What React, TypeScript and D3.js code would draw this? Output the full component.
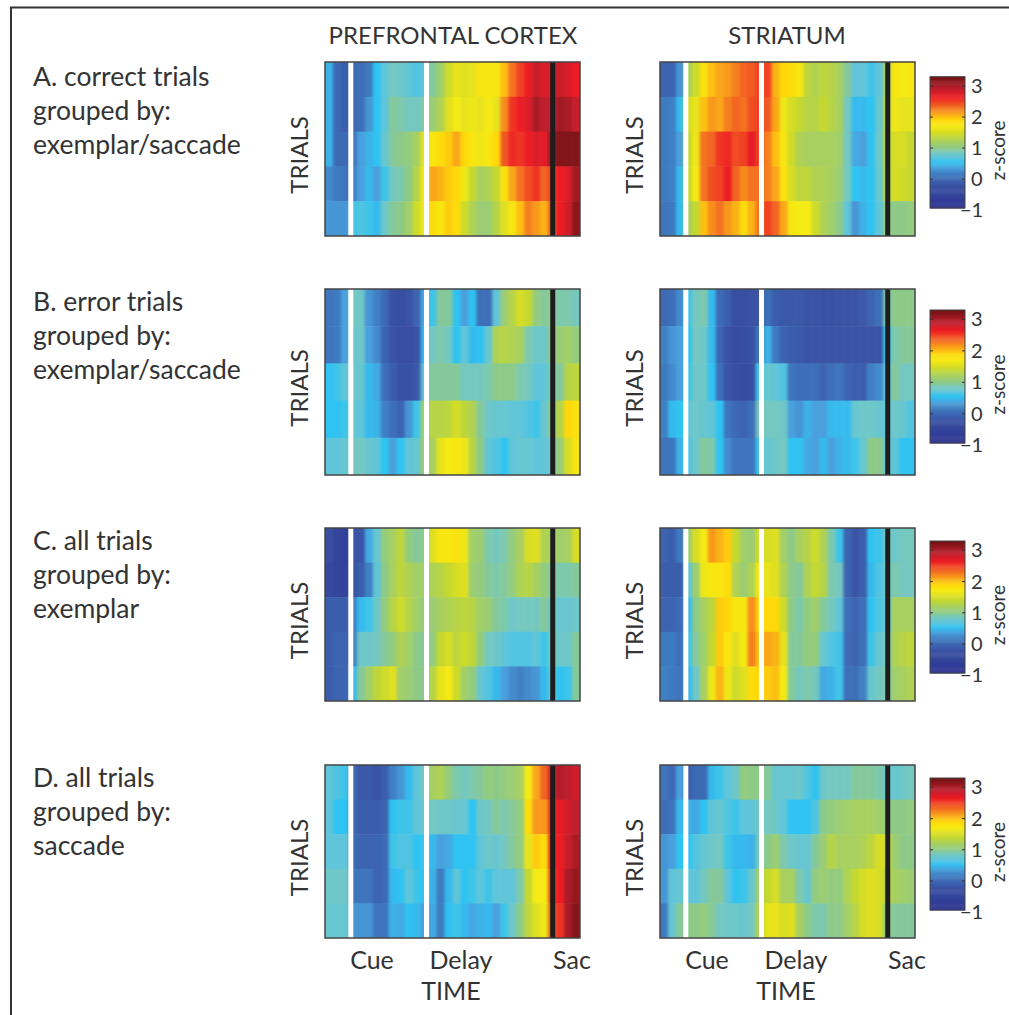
import React from 'react';
import * as d3 from 'd3';

// z-score per time bin (32 bins), 5 trial groups per panel
const pfcA = [
  [.45,0,-.1,0,.05,.15,.55,.7,.85,.8,.7,.65,.7,.95,1.15,1.45,1.6,1.55,1.6,1.75,1.75,1.75,2,2.3,2.5,2.65,2.85,2.75,2.8,2.85,2.75,2.65],
  [.45,0,-.1,0,.05,.3,.55,.7,.95,.9,.85,.85,.9,1.1,1.25,1.55,1.7,1.6,1.65,1.6,1.7,1.6,2.2,2.55,2.65,2.75,3,2.9,2.9,3.05,3,2.85],
  [.45,0,0,.1,.35,.45,.55,.75,.95,1,1.05,1.2,1.6,1.75,1.85,1.95,2.1,1.9,1.75,1.65,1.75,1.9,2.4,2.6,2.55,2.65,2.75,2.7,3.1,3.2,3.2,3.2],
  [.25,.15,.1,.2,.35,.5,.35,.6,.85,.9,1,1.3,1.75,2.1,2.05,1.95,1.9,1.65,1.4,1.2,1.25,1.4,1.8,2.1,2.3,2.45,2.55,2.35,2.5,2.65,2.75,3.05],
  [.3,.3,.3,.6,.65,.6,.5,.8,.95,1,1.15,1.45,1.65,1.85,1.75,1.95,1.85,1.45,1.25,1.1,1.1,1.3,1.55,1.75,2,2.25,2.15,2.05,2.4,2.65,2.8,3.15],
];
const strA = [
  [-.05,-.05,.3,1.2,1.45,1.8,2,2.1,2.15,2.25,2.35,2.4,2.5,2.5,2.05,1.9,1.85,1.75,1.35,1.25,1.35,1.3,1.2,.95,.7,.7,.6,.7,1.2,1.75,1.7,1.75],
  [.15,.2,.5,1.5,1.6,2,2.15,2.1,2.25,2.35,2.3,2.45,2.5,2.4,2.1,1.65,1.5,1.4,1.3,1.3,1.4,1.3,1.2,.85,.5,.5,.55,.75,1.3,1.65,1.6,1.6],
  [.15,.2,.35,1.4,1.65,2.3,2.35,2.55,2.6,2.45,2.5,2.7,2.5,2.25,2,1.75,1.45,1.25,1.2,1.2,1.2,1.2,1.15,.85,.4,.35,.55,.8,1.3,1.5,1.5,1.4],
  [.15,.2,.5,1.4,1.7,2.3,2.45,2.5,2.65,2.35,2.2,2.3,2.3,2.25,2.1,1.8,1.5,1.35,1.35,1.25,1.25,1.2,1.1,.85,.55,.5,.55,.75,1.3,1.5,1.45,1.4],
  [.1,.15,.5,1.2,1.4,2,2.2,2.3,2.15,2.05,1.85,2.05,2.3,2.5,2.35,2.1,1.75,1.7,1.7,1.45,1.25,1.15,1,.7,.3,.45,.55,.7,1.05,1,1,1.05],
];
const pfcB = [
  [.1,.15,.35,.85,.8,.3,.2,0,-.25,-.3,-.2,-.05,.4,.6,.95,.95,.55,.35,.55,.05,.05,.7,1.1,1.3,1.5,1.4,1.05,.95,1,.9,.9,.85],
  [.1,.15,.35,.75,.8,.35,.25,-.05,-.2,-.3,-.3,-.2,.5,.85,.9,.85,.55,.7,.5,.55,.75,1.25,1.3,1.25,1.2,.9,.8,.8,1,1.1,1.15,1.05],
  [.55,.6,.7,.8,.75,.5,.4,.05,-.1,-.25,-.25,-.15,.7,.95,.95,.95,.95,.85,.85,.85,.9,1,1,1,.9,.85,.7,.7,.9,.95,1.3,1.35],
  [.55,.55,.6,.75,.7,.5,.45,.2,.05,-.05,.3,.6,1.15,1.3,1.3,1.35,1.5,1.35,1.25,.95,.8,.75,.75,.7,.7,.65,.6,.75,1,1.3,1.9,1.8],
  [.7,.7,.75,.85,.85,.75,.7,.55,.35,.55,.7,.75,1.1,1.2,1.6,1.7,1.75,1.65,1.3,1,.7,.65,.55,.7,.75,.75,.7,.7,.85,1.1,1.5,1.75],
];
const strB = [
  [0,.05,.25,.6,.85,.9,.5,0,-.1,-.3,-.3,-.2,-.2,.05,-.1,-.15,-.15,-.15,-.2,-.2,-.25,-.25,-.2,-.2,-.2,-.15,-.05,.05,.9,1,1,1],
  [.2,.3,.35,.55,.85,.8,.5,-.05,-.25,-.35,-.3,-.25,.1,.45,.15,-.05,-.1,-.15,-.2,-.2,-.2,-.2,-.2,-.2,-.2,-.2,-.2,-.2,.6,.9,.95,.95],
  [.15,.25,.35,.6,.8,.8,.55,.05,-.2,-.3,-.35,-.3,.6,.75,.7,.65,.1,.05,.05,.05,-.05,.05,.1,-.05,-.1,-.1,.2,.25,.7,.95,.85,.85],
  [.2,.5,.55,.7,.8,.75,.7,.55,.1,0,-.05,.05,.85,.85,.85,.8,.35,.3,.45,.35,.35,.5,.5,.5,.75,.8,.8,.75,.7,.8,.75,.65],
  [.1,.1,.45,.65,.8,.95,.9,.55,.25,.1,.1,.1,.6,.75,.8,.85,.55,.55,.4,.35,.5,.35,.45,.5,.6,.75,1,1,.7,.7,.55,.55],
];
const pfcC = [
  [-.3,-.5,-.6,-.2,-.2,.4,.75,1.05,1.2,1.35,1.05,.95,1,1.55,1.75,1.75,1.8,1.65,1.15,1.1,.9,.85,.9,1.05,1.2,1.5,1.55,1.25,1.2,1.15,1.2,1.5],
  [-.4,-.5,-.55,-.2,-.1,.2,.7,1,1.2,1.35,1.25,1.15,1.15,1.25,1.3,1.4,1.5,1.55,1.1,1.05,.95,.9,.95,1.05,1.25,1.3,1.2,1.05,.95,.9,.9,.95],
  [-.1,-.1,-.1,.2,.5,.6,.8,1.05,1.3,1.45,1.3,1.15,1.05,1.1,1.2,1.25,1.3,1.35,1.3,1.15,1.1,.95,.9,.8,.85,.85,.85,.95,.8,.75,.75,.8],
  [-.1,-.05,-.05,.2,.8,.8,.85,.95,1.05,1.25,1.15,1,.95,1.05,1.4,1.5,1.35,1.45,1.35,1.05,.85,.8,.7,.65,.65,.65,.7,.6,.8,.8,.8,.95],
  [-.1,-.05,-.05,.5,.95,1.15,1.35,1.45,1.55,1.15,1.1,1,1,1.3,1.6,1.7,1.45,1.15,1.05,.75,.65,.5,.35,.25,.2,.25,.3,.5,.7,.55,.6,.95],
];
const strC = [
  [-.05,-.1,.15,1.1,1.5,1.7,2.15,2.05,1.95,1.4,1.15,1.1,1.45,1.5,1.55,1.15,1,1.2,1.3,1.45,1.25,.9,.6,-.05,-.2,-.1,.55,.6,.8,.8,.85,.85],
  [-.1,-.1,-.1,.7,1.1,1.65,1.75,1.75,1.85,1.25,1.1,1.25,1.7,1.6,1.55,1.25,1,.95,1.25,1.4,1.3,.9,.85,-.05,-.2,-.1,.5,.65,.8,.9,.85,.85],
  [-.05,-.05,0,.5,1,1.2,1.35,1.95,1.9,1.75,1.75,2.2,1.9,1.9,1.9,1.45,1,.9,1.05,1.15,.95,.85,.7,.05,-.05,.05,.55,.65,.75,1.2,1.2,1.2],
  [.15,.15,.05,.6,.95,1.15,1.4,1.95,1.75,1.55,1.7,2.25,2,2.1,2.05,1.6,.95,.95,1.05,1.05,.75,.65,.6,0,-.05,.05,.6,.75,.85,1.25,1.3,1.35],
  [.2,.15,.1,.5,.8,1.2,1.65,2.05,1.65,1.45,1.55,1.85,1.9,1.95,2,1.7,.95,.85,.9,.85,.4,.45,.6,.05,.05,.2,.75,.85,.9,1.15,1.2,1.25],
];
const pfcD = [
  [.7,.65,.6,0,-.15,-.15,-.2,-.1,.2,.3,.5,.7,.85,1.2,1.25,1.05,.9,.85,.9,.95,1.05,1,1.05,1.1,1.2,1.7,2.1,2.35,2.75,2.95,2.9,2.8],
  [.7,.55,.55,0,-.1,-.1,-.1,-.05,.55,.6,.6,.7,.75,.85,.8,.8,.75,.75,.55,.8,.85,.95,.9,.95,1.05,1.85,2.15,2.15,2.6,2.7,2.8,2.9],
  [.7,.7,.7,0,-.05,-.05,-.05,0,.6,.65,.65,.55,.6,.5,.35,.4,.55,.55,.55,.7,.8,.75,.85,.95,1.05,1.6,1.95,1.85,2.6,2.65,2.85,3],
  [.8,.8,.8,.1,.1,.1,-.05,0,.5,.55,.7,.6,.55,.45,.15,.5,.7,.55,.6,.7,.6,.7,.7,.7,.9,1.4,1.7,1.7,2.5,2.65,3,3.1],
  [.75,.75,.75,.3,.3,.3,.1,.1,.45,.4,.55,.5,.35,.4,.15,.55,.6,.5,.4,.45,.5,.35,.6,.8,1,1.35,1.55,1.65,2.4,2.55,3,3.2],
];
const strD = [
  [.1,0,.35,-.1,0,0,.5,.6,.7,.8,1.05,1,1,.95,.75,.75,.75,.8,.65,.55,.8,.85,.85,.85,.95,.95,.95,.9,.8,.75,.8,.85],
  [.05,.1,.5,.45,.4,.55,.7,.75,.65,.6,.7,.7,.8,.85,.8,.7,.55,.55,.55,.65,1,1.05,1.1,1.15,1.2,1.2,1.2,1.15,1.05,1,1,1.05],
  [.3,.35,.55,.55,.65,.75,.8,.85,.6,.5,.5,.45,.85,1,1.1,.9,.8,.75,.75,.95,1.1,1.3,1.2,1.2,1.2,1.25,1.35,1.5,1.45,1.1,1,1],
  [.3,.7,.75,.7,.7,.85,.95,.95,.7,.55,.6,.75,1.15,1.4,1.5,1.2,1.2,.9,.75,1.05,1.1,1.05,1.05,1.25,1.4,1.5,1.55,1.5,1.3,1.2,1.15,1.1],
  [.15,.75,.95,1,1,1.05,.95,.85,.8,.8,.75,.85,1.25,1.6,1.6,1.5,1.55,1.2,1,.9,.9,1,1,1.15,1.3,1.5,1.55,1.5,1,.95,.95,.95],
];

const zStops = [-0.93, -0.2, 0.2, 0.35, 0.55, 0.7, 0.85, 1, 1.2, 1.4, 1.55, 1.7, 1.9, 2.1, 2.35, 2.65, 2.9, 3.3];
const zColors = ['#2b3090', '#3a53a4', '#3f80c4', '#4aa0dc', '#2fc3f2', '#60c5d8', '#75c8c0', '#8dca88', '#a8d060', '#c5d82f', '#e0e020', '#f5ea14', '#ffd80a', '#faa61a', '#f26522', '#ed1c24', '#be1e2d', '#6d1212'];
const zTicks = [3, 2, 1, 0, -1];

const rowLabels = [
  ['A. correct trials', 'grouped by:', 'exemplar/saccade'],
  ['B. error trials', 'grouped by:', 'exemplar/saccade'],
  ['C. all trials', 'grouped by:', 'exemplar'],
  ['D. all trials', 'grouped by:', 'saccade'],
];
const regions = ['PREFRONTAL CORTEX', 'STRIATUM'];
const panels = [[pfcA, strA], [pfcB, strB], [pfcC, strC], [pfcD, strD]];
const rowExtents = [[62, 236], [289, 475], [528, 701], [765, 938]];
const barExtents = [[76.7, 208], [310, 443], [541, 673], [778, 910]];
const labelBaselines = [86, 311, 550, 787];
const columnStarts = [325, 660];
const timeLabels = [['Cue', 47], ['Delay', 136], ['Sac', 247]];
// event markers in time-bin units
const events = [[3.24, 'white'], [12.74, 'white'], [28.58, '#1d1d1d']];

const PLOT_W = 255;
const INK = '#333';
const FONT = 'Lato, sans-serif';

const zColor = d3.scaleLinear<string>().domain(zStops).range(zColors).clamp(true);

function Heatmap({ data, x0, y0, y1, id }: any) {
  const nCols = data[0].length;
  const x = d3.scaleLinear().domain([0, nCols]).range([x0, x0 + PLOT_W]);
  const y = d3.scaleBand<number>().domain(d3.range(data.length)).range([y0, y1]);
  const bleed = 8; // edge cells run past the frame so the blur doesn't fade at the border
  return (
    <g>
      <clipPath id={`clip-${id}`}>
        <rect x={x0} y={y0} width={PLOT_W} height={y1 - y0} />
      </clipPath>
      <g clipPath={`url(#clip-${id})`}>
        <g filter="url(#soften)">
          {data.map((row: number[], r: number) =>
            row.map((v, c) => {
              const left = x(c) - (c === 0 ? bleed : 0);
              const right = x(c + 1) + (c === nCols - 1 ? bleed : 0);
              const top = y(r)! - (r === 0 ? bleed : 0);
              const bottom = y(r)! + y.bandwidth() + (r === data.length - 1 ? bleed : 0);
              return <rect key={`${r}-${c}`} x={left} y={top} width={right - left + 0.5} height={bottom - top + 0.5} fill={zColor(v)} />;
            })
          )}
        </g>
      </g>
      {events.map(([t, color]: any) => (
        <line key={t} x1={x(t)} x2={x(t)} y1={y0} y2={y1} stroke={color} strokeWidth={5} />
      ))}
      <rect x={x0} y={y0} width={PLOT_W} height={y1 - y0} fill="none" stroke="#444" strokeWidth={1.5} />
    </g>
  );
}

function ColorBar({ y0, y1 }: any) {
  const x0 = 930;
  const w = 35;
  const z = d3.scaleLinear().domain([-0.93, 3.3]).range([y1, y0]);
  const steps = d3.range(-0.93, 3.3, 0.03);
  return (
    <g>
      {steps.map((s) => (
        <rect key={s} x={x0} y={z(s + 0.03)} width={w} height={z(s) - z(s + 0.03) + 0.5} fill={zColor(s)} />
      ))}
      <rect x={x0} y={y0} width={w} height={y1 - y0} fill="none" stroke="#444" strokeWidth={1} />
      {zTicks.map((t) => (
        <g key={t}>
          {t > -1 && <line x1={x0} x2={x0 + 3} y1={z(t)} y2={z(t)} stroke="#333" />}
          {t > -1 && <line x1={x0 + w - 3} x2={x0 + w} y1={z(t)} y2={z(t)} stroke="#333" />}
          <text x={t < 0 ? 960 : 971} y={z(t) + 7} fontSize={20} fill={INK}>{t < 0 ? `\u2212${-t}` : t}</text>
        </g>
      ))}
      <text transform={`translate(1005,${(y0 + y1) / 2 + 8}) rotate(-90)`} textAnchor="middle" fontSize={19} fill={INK}>z-score</text>
    </g>
  );
}

export default function App() {
  return (
    <svg width={1009} height={1015} style={{ position: 'absolute', left: 0, top: 0, display: 'block', fontFamily: FONT }}>
      <defs>
        <filter id="soften" x="-5%" y="-5%" width="110%" height="110%" colorInterpolationFilters="sRGB">
          <feGaussianBlur stdDeviation="1.8 0.6" />
        </filter>
      </defs>
      <rect width={1009} height={1015} fill="white" />
      <path d="M1009,7.5H11V1015" fill="none" stroke="#333" strokeWidth={2} />

      {regions.map((name, i) => (
        <text key={name} x={columnStarts[i] + (i === 0 ? 128 : 127)} y={44} textAnchor="middle" fontSize={24} fill={INK}>{name}</text>
      ))}

      {panels.map((pair, p) => (
        <g key={p}>
          {rowLabels[p].map((line, l) => (
            <text key={l} x={33} y={labelBaselines[p] + l * 34} fontSize={26.5} fill={INK}>{line}</text>
          ))}
          {pair.map((data, c) => {
            const [y0, y1] = rowExtents[p];
            return (
              <g key={c}>
                <Heatmap data={data} x0={columnStarts[c]} y0={y0} y1={y1} id={`${p}-${c}`} />
                <text transform={`translate(${columnStarts[c] - 17},${(y0 + y1) / 2 + 6}) rotate(-90)`} textAnchor="middle" fontSize={24} fill={INK}>TRIALS</text>
              </g>
            );
          })}
          <ColorBar y0={barExtents[p][0]} y1={barExtents[p][1]} />
        </g>
      ))}

      {columnStarts.map((x0) => (
        <g key={x0}>
          {timeLabels.map(([label, dx]: any) => (
            <text key={label} x={x0 + dx} y={969} textAnchor="middle" fontSize={25} fill={INK}>{label}</text>
          ))}
          <text x={x0 + 126} y={1000} textAnchor="middle" fontSize={25} fill={INK}>TIME</text>
        </g>
      ))}
    </svg>
  );
}
